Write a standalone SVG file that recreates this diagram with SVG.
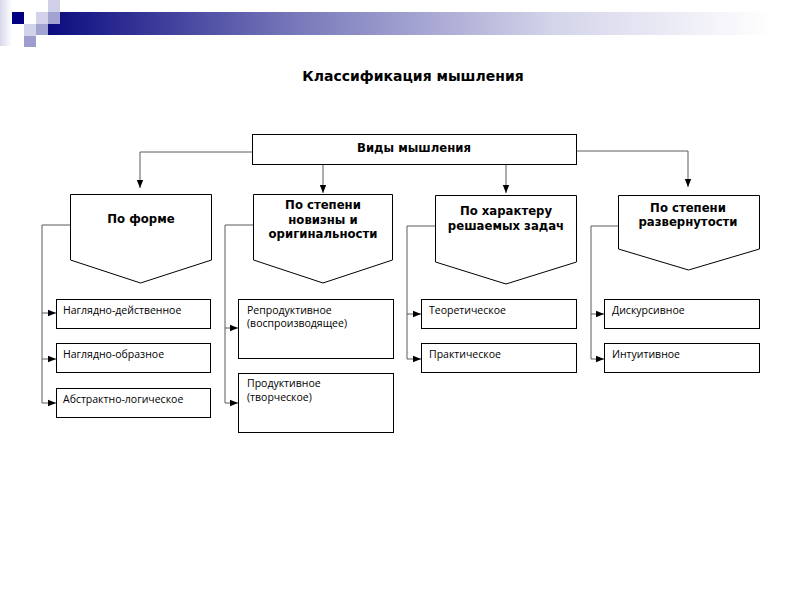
<svg xmlns="http://www.w3.org/2000/svg" width="800" height="600" viewBox="0 0 800 600">
<defs>
<linearGradient id="bar" x1="0" y1="0" x2="1" y2="0">
<stop offset="0" stop-color="#0c0c80"/>
<stop offset="0.35" stop-color="#7a7abc"/>
<stop offset="0.7" stop-color="#d4d4ea"/>
<stop offset="1" stop-color="#ffffff"/>
</linearGradient>
<linearGradient id="fade" x1="0" y1="0" x2="1" y2="0">
<stop offset="0" stop-color="#d8d8ec"/>
<stop offset="1" stop-color="#ffffff"/>
</linearGradient>
<marker id="arr" markerUnits="userSpaceOnUse" markerWidth="8" markerHeight="8" refX="8" refY="4" orient="auto">
<path d="M0,0.8 L8,4 L0,7.2 z" fill="#000"/>
</marker>
<style>
.box{fill:#fff;stroke:#000;stroke-width:1}
.con{fill:none;stroke:#5a5a5a;stroke-width:1;marker-end:url(#arr)}
.hd{font-family:"DejaVu Sans",Verdana,sans-serif;font-weight:bold;font-size:11.7px;fill:#000;text-anchor:middle}
.lb{font-family:"Open Sans","DejaVu Sans",sans-serif;font-size:10.5px;fill:#000}
.ti{font-family:"DejaVu Sans",Verdana,sans-serif;font-weight:bold;font-size:14px;fill:#000;text-anchor:middle}
</style>
</defs>
<rect width="800" height="600" fill="#fff"/>
<g id="header">
<rect x="0" y="0" width="12" height="46" fill="url(#fade)"/>
<rect x="48" y="12" width="724" height="23" fill="url(#bar)"/>
<rect x="12" y="12" width="12" height="12" fill="#000080"/>
<rect x="48" y="0" width="12" height="12" fill="#cfcfe8"/>
<rect x="36" y="12" width="12" height="12" fill="#d2d2ea"/>
<rect x="48" y="12" width="12" height="12" fill="#a3a3d2"/>
<rect x="24" y="24" width="12" height="12" fill="#d2d2ea"/>
<rect x="36" y="24" width="12" height="11" fill="#a3a3d2"/>
<rect x="24" y="36" width="12" height="11" fill="#9c9ccf"/>
</g>
<text class="ti" x="413" y="81">Классификация мышления</text>
<g id="connectors">
<path class="con" d="M252,152 H140 V188"/>
<path class="con" d="M323,164 V193"/>
<path class="con" d="M506,164 V193"/>
<path class="con" d="M576,151 H688 V187"/>
<path class="con" d="M70,225 H42 V313 H56"/>
<path class="con" d="M42,313 V359 H56"/>
<path class="con" d="M42,359 V403 H56"/>
<path class="con" d="M253,225 H225 V328 H238"/>
<path class="con" d="M225,328 V403 H238"/>
<path class="con" d="M435,226 H407 V314 H421"/>
<path class="con" d="M407,314 V359 H421"/>
<path class="con" d="M618,226 H591 V314 H604"/>
<path class="con" d="M591,314 V359 H604"/>
</g>
<g id="root">
<rect class="box" x="252.5" y="134.5" width="324" height="30"/>
<text class="hd" x="414" y="152">Виды мышления</text>
</g>
<g id="form">
<polygon class="box" points="70.5,194.5 211.5,194.5 211.5,260 140.5,283 70.5,260"/>
<text class="hd" x="141" y="223">По форме</text>
</g>
<g id="novelty">
<polygon class="box" points="253.5,194.5 392.5,194.5 392.5,260 323,283 253.5,260"/>
<text class="hd" x="323" y="209">По степени</text>
<text class="hd" x="323" y="223.5">новизны и</text>
<text class="hd" x="323" y="238">оригинальности</text>
</g>
<g id="tasks">
<polygon class="box" points="435.5,195.5 576.5,195.5 576.5,262 506,284 435.5,262"/>
<text class="hd" x="506" y="215">По характеру</text>
<text class="hd" x="506" y="230">решаемых задач</text>
</g>
<g id="expand">
<polygon class="box" points="618.5,195.5 759.5,195.5 759.5,249 688.5,270 618.5,249"/>
<text class="hd" x="688" y="212">По степени</text>
<text class="hd" x="688" y="226">развернутости</text>
</g>
<g id="n1"><rect class="box" x="56.5" y="299.5" width="154" height="29"/><text class="lb" x="63" y="314">Наглядно-действенное</text></g>
<g id="n2"><rect class="box" x="56.5" y="343.5" width="154" height="29"/><text class="lb" x="63" y="358">Наглядно-образное</text></g>
<g id="n3"><rect class="box" x="56.5" y="388.5" width="154" height="29"/><text class="lb" x="63" y="403">Абстрактно-логическое</text></g>
<g id="n4"><rect class="box" x="238.5" y="299.5" width="155" height="59"/><text class="lb" x="247" y="314">Репродуктивное</text><text class="lb" x="247" y="327">(воспроизводящее)</text></g>
<g id="n5"><rect class="box" x="238.5" y="373.5" width="155" height="59"/><text class="lb" x="247" y="387">Продуктивное</text><text class="lb" x="247" y="401">(творческое)</text></g>
<g id="n6"><rect class="box" x="421.5" y="299.5" width="155" height="29"/><text class="lb" x="429" y="314">Теоретическое</text></g>
<g id="n7"><rect class="box" x="421.5" y="343.5" width="155" height="29"/><text class="lb" x="429" y="358">Практическое</text></g>
<g id="n8"><rect class="box" x="604.5" y="299.5" width="155" height="29"/><text class="lb" x="612" y="314">Дискурсивное</text></g>
<g id="n9"><rect class="box" x="604.5" y="343.5" width="155" height="29"/><text class="lb" x="612" y="358">Интуитивное</text></g>
</svg>
